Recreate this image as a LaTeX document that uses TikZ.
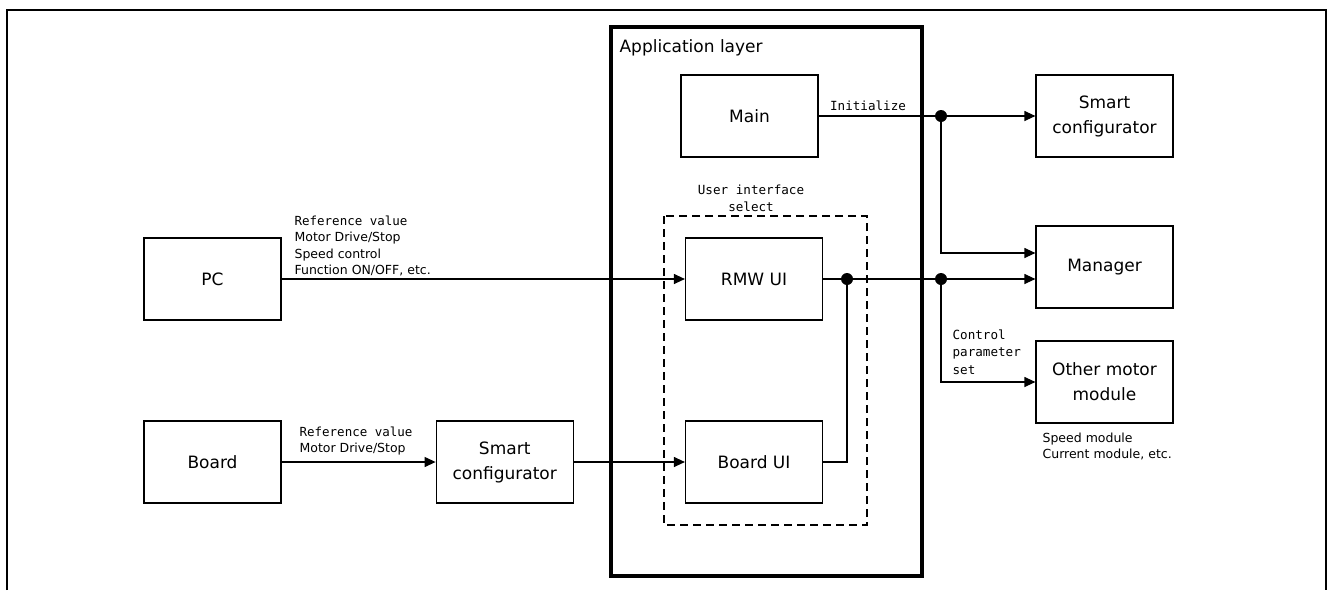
\documentclass[tikz,border=0pt]{standalone}
\usepackage{fontspec}
\setmainfont{DejaVu Sans}
\setmonofont{DejaVu Sans Mono}
\usetikzlibrary{arrows.meta, positioning}

\begin{document}
\begin{tikzpicture}[
    x=1pt, y=-1pt,
    line width=1.2pt,
    >={Triangle[length=11pt, width=10pt]},
    block/.style={draw, line width=1.2pt, minimum width=137pt, minimum height=82pt, align=center, font=\fontsize{17}{25}\selectfont},
    note/.style={align=left, inner sep=0pt, font=\fontsize{12.5}{16.5}\selectfont},
    mono/.style={inner sep=0pt, font=\ttfamily\fontsize{12.6}{17.5}\selectfont},
    dot/.style={circle, fill, inner sep=0pt, minimum size=12pt}
]
   \useasboundingbox (0,0) rectangle (1330,590);

   % Frame and layer
   \draw[line width=2pt] (7,590) -- (7,10) -- (1326,10) -- (1326,590);
   \draw[line width=4pt] (611,27) rectangle (922,576);
   \node[anchor=west, inner sep=0pt, font=\fontsize{17}{20}\selectfont] (layer) at (619,48) {Application layer};
   \draw[dash pattern=on 8pt off 5pt] (664,216) rectangle (867,525);
   \node[mono, align=center] (uisel) at (751,198.5) {User interface\\select};

   % Blocks
   \node[block] (PC) at (212.5,279) {PC};
   \node[block] (Board) at (212.5,462) {Board};
   \node[block] (SCleft) [right=154pt of Board] {Smart\\configurator};
   \node[block] (Main) at (749.5,116) {Main};
   \node[block] (RMWUI) at (754,279) {RMW UI};
   \node[block] (BoardUI) at (754,462) {Board UI};
   \node[block] (SCright) at (1104.5,116) {Smart\\configurator};
   \node[block] (Manager) at (1104.5,267) {Manager};
   \node[block] (Other) at (1104.5,382) {Other motor\\module};

   % Branch points
   \coordinate (initsplit) at (941,116);
   \coordinate (uisplit) at (847,279);
   \coordinate (mgrsplit) at (941,279);

   % Connections
   \draw[->] (PC) -- (RMWUI);
   \draw[->] (Board) -- (SCleft);
   \draw[->] (SCleft) -- (BoardUI);
   \draw[->] (Main) -- (SCright);
   \draw[->] (initsplit) |- ([yshift=14pt]Manager.west);
   \draw[->] (RMWUI.east) -- (Manager.west |- RMWUI.east);
   \draw[->] (mgrsplit) |- (Other.west);
   \draw (BoardUI.east) -| (uisplit);
   \node[dot] (d1) at (initsplit) {};
   \node[dot] (d2) at (uisplit) {};
   \node[dot] (d3) at (mgrsplit) {};

   % Labels
   \node[mono] (init) at (868,106) {Initialize};
   \node[note, anchor=south west] (pcnote) at (294,277) {{\ttfamily Reference value}\\Motor Drive/Stop\\Speed control\\Function ON/OFF, etc.};
   \node[note, anchor=south west] (boardnote) at (299,456) {{\ttfamily Reference value}\\Motor Drive/Stop};
   \node[mono, align=left, anchor=north west] (ctrlnote) at (952,329) {Control\\parameter\\set};
   \node[note, anchor=north west] (othernote) at (1042,432) {Speed module\\Current module, etc.};
\end{tikzpicture}
\end{document}
